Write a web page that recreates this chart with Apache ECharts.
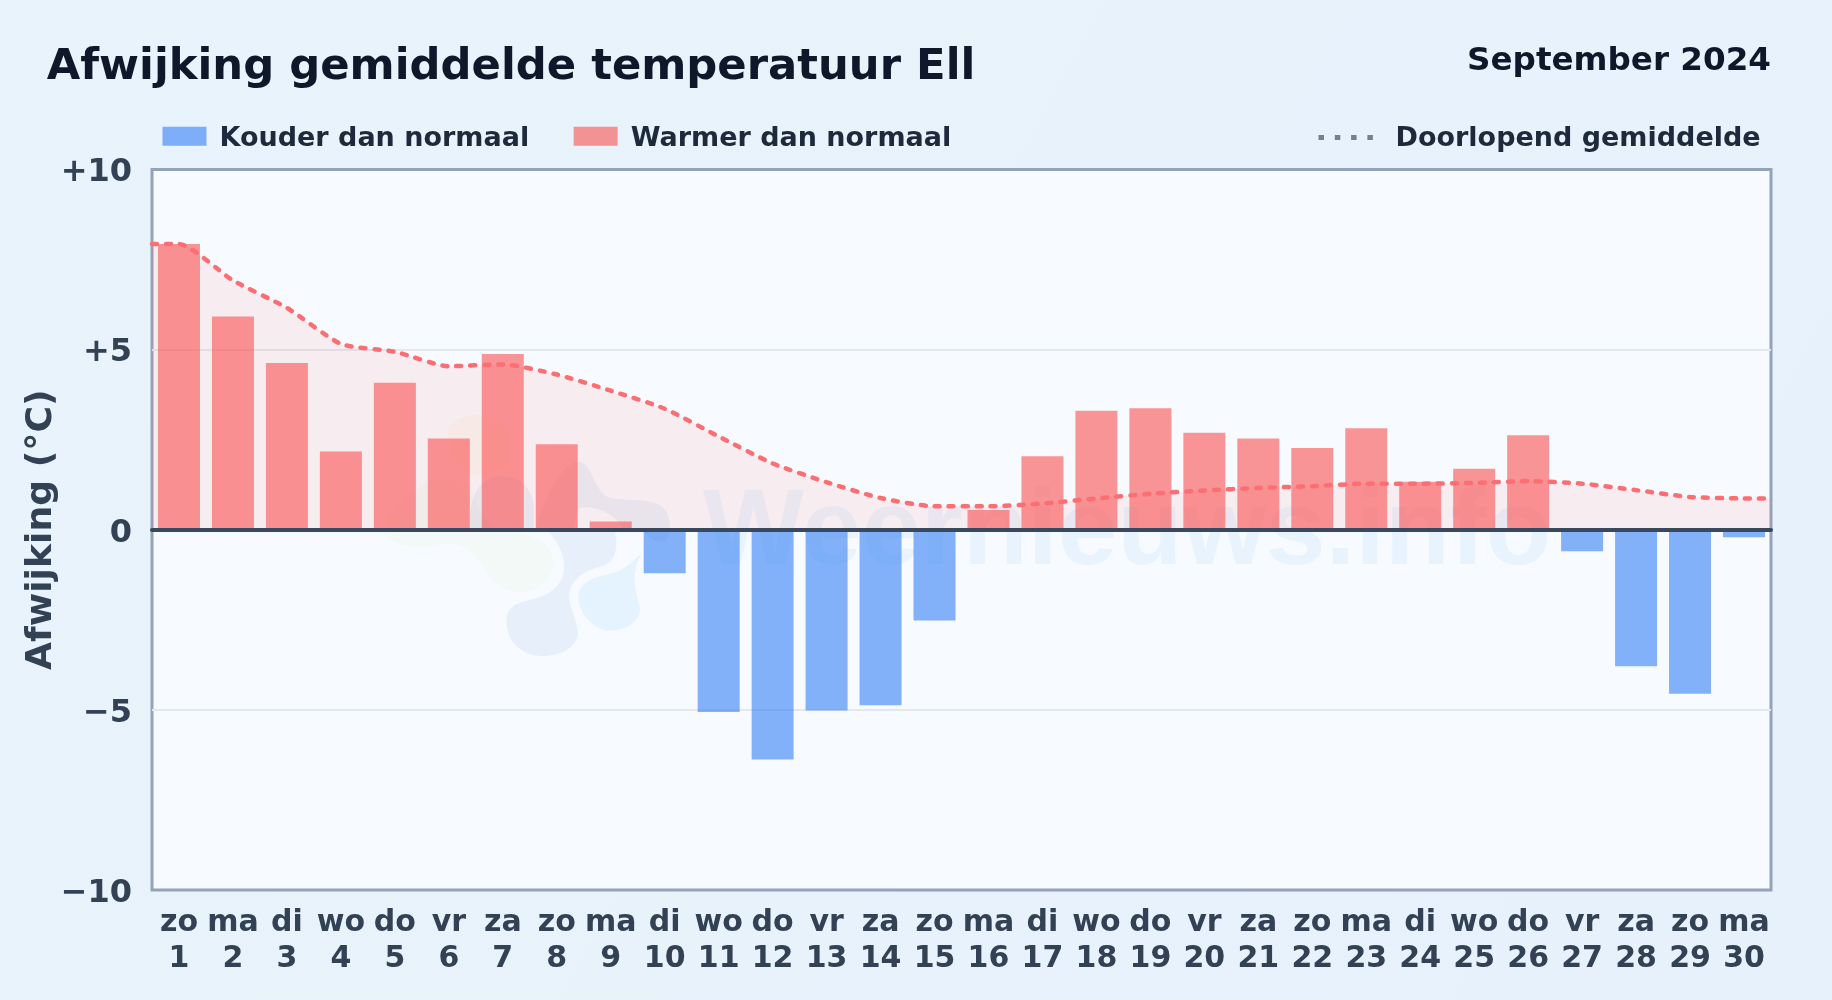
<!DOCTYPE html>
<html><head><meta charset="utf-8">
<style>html,body{margin:0;padding:0;background:#e8f3fc}#c{width:1832px;height:1000px}</style>
<script src="https://cdn.jsdelivr.net/npm/echarts@6/dist/echarts.min.js"></script></head>
<body><div id="c"></div>
<script>
const weekdays = ['zo','ma','di','wo','do','vr','za','zo','ma','di','wo','do','vr','za','zo','ma','di','wo','do','vr','za','zo','ma','di','wo','do','vr','za','zo','ma'];
const days = ['1','2','3','4','5','6','7','8','9','10','11','12','13','14','15','16','17','18','19','20','21','22','23','24','25','26','27','28','29','30'];
const warmer = [7.93,5.92,4.63,2.17,4.08,2.53,4.88,2.37,0.23,null,null,null,null,null,null,0.55,2.04,3.30,3.37,2.69,2.53,2.27,2.82,1.33,1.69,2.62,null,null,null,null];
const colder = [null,null,null,null,null,null,null,null,null,-1.21,-5.06,-6.38,-5.02,-4.87,-2.52,null,null,null,null,null,null,null,null,null,null,null,-0.60,-3.79,-4.55,-0.21];
const meanDays = [0.5,1,2,3,4,5,6,7,8,9,10,11,12,13,14,15,16,17,18,19,20,21,22,23,24,25,26,27,28,29,30,30.5];
const meanValues = [7.93,7.93,6.92,6.16,5.16,4.94,4.54,4.59,4.31,3.86,3.36,2.59,1.84,1.32,0.88,0.65,0.65,0.73,0.87,1.00,1.09,1.16,1.21,1.28,1.28,1.30,1.35,1.28,1.10,0.91,0.87,0.87];
const yTickLabels = {'10':'+10','5':'+5','0':'0','-5':'\u22125','-10':'\u221210'};

const FONT = '"DejaVu Sans"';
const legendRich = {t:{fontFamily:FONT,fontSize:27,fontWeight:'bold',color:'#1e293b',padding:[5,0,0,0]}};
const logoShapes = [
  ['M235 120C240 85 300 70 340 75C400 80 420 130 415 190C410 240 360 262 310 255C260 240 230 170 235 120Z','rgba(250,200,80,0.07)'],
  ['M40 425C60 470 150 480 200 465C270 450 310 480 340 530C370 590 420 610 470 605C530 595 560 540 545 490C530 440 460 430 400 420C330 410 320 330 300 290C270 260 190 260 150 290C100 320 50 380 40 425Z','rgba(170,220,120,0.06)'],
  ['M300 418C295 330 320 265 390 258C450 255 490 300 492 350L492 418Z','rgba(50,120,190,0.08)'],
  ['M495 418C520 330 580 210 630 215C665 225 670 290 710 320C770 340 860 315 890 365C905 400 900 430 890 450C870 470 830 440 815 418L762 418C730 370 680 345 625 355L610 418Z','rgba(50,120,190,0.08)'],
  ['M410 700C405 660 430 640 480 630C540 615 575 590 582 540C585 490 560 450 535 425L735 425C745 470 740 520 690 530C650 540 610 560 597 610C595 650 625 700 625 730C620 780 560 800 510 798C450 795 410 750 410 700Z','rgba(50,120,190,0.08)'],
  ['M625 620C625 580 670 560 720 552C770 540 790 510 815 490C790 540 785 570 810 650C815 690 770 722 720 722C670 720 625 670 625 620Z','rgba(60,170,250,0.09)']
];
const chart = echarts.init(document.getElementById('c'), null, {renderer:'canvas', width:1832, height:1000});
chart.setOption({
  animation:false,
  backgroundColor:{type:'linear',x:0,y:0,x2:1,y2:1,colorStops:[{offset:0,color:'#e8f3fc'},{offset:1,color:'#e7f1fb'}]},
  textStyle:{fontFamily:FONT},
  title:[
    {text:'Afwijking gemiddelde temperatuur Ell',left:41.7,top:41,textStyle:{fontFamily:FONT,fontSize:43.3,fontWeight:'bold',color:'#0f172a'}},
    {text:'September 2024',right:56,top:40.2,textStyle:{fontFamily:FONT,fontSize:32.6,fontWeight:'bold',color:'#0f172a'}}
  ],
  legend:[
    {left:157.5,top:120.3,itemWidth:44,itemHeight:19,itemGap:44.5,selectedMode:false,formatter:n=>'{t|'+n+'}',
     data:[{name:'Kouder dan normaal',icon:'rect'},{name:'Warmer dan normaal',icon:'rect'}],
     textStyle:{fontFamily:FONT,fontSize:27,fontWeight:'bold',color:'#1e293b',padding:[0,0,0,8],rich:legendRich}},
    {left:1313.5,top:120.3,itemWidth:56,itemHeight:19,selectedMode:false,formatter:n=>'{t|'+n+'}',
     data:[{name:'Doorlopend gemiddelde',
            icon:'path://M0 8.2H5.5V13.2H0ZM16.3 8.2H21.8V13.2H16.3ZM32.6 8.2H38.1V13.2H32.6ZM48.9 8.2H54.4V13.2H48.9ZM0 0H0.01V0H0ZM0 19H0.01V19H0ZM56 0H56.01V0H56Z',
            itemStyle:{color:'#64748b',opacity:0.9,borderWidth:0}}],
     textStyle:{fontFamily:FONT,fontSize:27,fontWeight:'bold',color:'#1e293b',padding:[0,0,0,16],rich:legendRich}}
  ],
  grid:{left:152,top:169.5,width:1619,height:720.5,show:true,backgroundColor:'#f7fbff',borderColor:'#94a3b8',borderWidth:3,containLabel:false},
  xAxis:[
    {type:'category',data:weekdays.map((d,i)=>d+'\n'+days[i]),z:6,
     axisLine:{show:true,onZero:true,lineStyle:{color:'#3a485e',width:4}},axisTick:{show:false},splitLine:{show:false},
     axisLabel:{interval:0,margin:15,fontFamily:FONT,fontSize:30,fontWeight:'bold',color:'#334155',lineHeight:36}},
    {type:'value',min:0.5,max:30.5,show:false,splitLine:{show:false}}
  ],
  yAxis:{type:'value',min:-10,max:10,interval:5,
    name:'Afwijking (\u00b0C)',nameLocation:'middle',nameGap:92,nameRotate:90,nameMoveOverlap:false,
    nameTextStyle:{fontFamily:FONT,fontSize:36.2,fontWeight:'bold',color:'#334155'},
    axisLine:{show:false},axisTick:{show:false},
    splitLine:{show:true,showMinLine:false,showMaxLine:false,lineStyle:{color:'#e2e8f0',width:2}},
    axisLabel:{margin:20,fontFamily:FONT,fontSize:32,fontWeight:'bold',color:'#334155',
      rich:{a:{fontFamily:FONT,fontSize:32,fontWeight:'bold',color:'#334155',padding:[7,0,0,0]}},
      formatter:v=>'{a|'+yTickLabels[String(v)]+'}'}},
  series:[
    {type:'custom',silent:true,z:1,clip:false,xAxisIndex:1,data:[[1,0]],tooltip:{show:false},
     renderItem:()=>({type:'group',children:[
       {type:'group',x:370,y:390,scaleX:1/3,scaleY:1/3,children:logoShapes.map(s=>({type:'path',shape:{pathData:s[0]},style:{fill:s[1]}}))},
       {type:'text',x:703,y:588,style:{text:'Weernieuws.info',font:'bold 107px "Liberation Sans"',fill:'rgba(40,140,230,0.07)',verticalAlign:'bottom'}}
     ]})},
    {name:'Kouder dan normaal',type:'bar',data:colder,barWidth:42,barGap:'-100%',z:3,itemStyle:{color:'rgba(59,130,246,0.62)'}},
    {name:'Warmer dan normaal',type:'bar',data:warmer,barWidth:42,barGap:'-100%',z:3,itemStyle:{color:'rgba(250,80,80,0.6)'}},
    {name:'Doorlopend gemiddelde',type:'line',xAxisIndex:1,data:meanDays.map((d,i)=>[d,meanValues[i]]),smooth:0.2,showSymbol:false,symbol:'none',z:4,clip:true,
     lineStyle:{color:'#fb6f74',width:4.5,type:[5,9],cap:'round'},
     areaStyle:{color:'rgba(255,90,90,0.12)',origin:0}}
  ]
});
</script></body></html>
